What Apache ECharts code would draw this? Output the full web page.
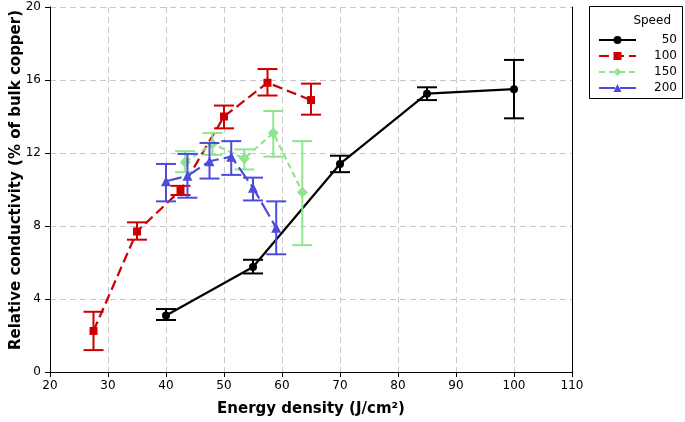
<!DOCTYPE html>
<html>
<head>
<meta charset="utf-8">
<script src="https://cdn.jsdelivr.net/npm/echarts@6/dist/echarts.min.js"></script>
<style>
html,body{margin:0;padding:0;background:#fff;}
#chart{width:685px;height:422px;}
</style>
</head>
<body>
<div id="chart"></div>
<script>
// ---- data ----
var seriesNames = ['50', '100', '150', '200'];
var xTicks = [20, 30, 40, 50, 60, 70, 80, 90, 100, 110];
var yTicks = [0, 4, 8, 12, 16, 20];

var s50_x  = [40, 55, 70, 85, 100];
var s50_y  = [3.1, 5.75, 11.4, 15.25, 15.5];
var s50_lo = [2.85, 5.4, 10.95, 14.9, 13.9];
var s50_hi = [3.45, 6.15, 11.85, 15.6, 17.1];

var s100_x  = [27.5, 35, 42.5, 50, 57.5, 65];
var s100_y  = [2.25, 7.7, 9.95, 14.0, 15.85, 14.9];
var s100_lo = [1.2, 7.25, 9.7, 13.35, 15.15, 14.1];
var s100_hi = [3.3, 8.2, 10.2, 14.6, 16.6, 15.8];

var s150_x  = [43.3, 48, 53.5, 58.5, 63.5];
var s150_y  = [11.5, 12.5, 11.7, 13.1, 9.85];
var s150_lo = [10.95, 11.9, 11.1, 11.8, 6.95];
var s150_hi = [12.1, 13.1, 12.2, 14.3, 12.65];

var s200_x  = [40, 43.7, 47.5, 51.25, 55, 59];
var s200_y  = [10.45, 10.75, 11.55, 11.8, 10.1, 7.9];
var s200_lo = [9.35, 9.55, 10.6, 10.8, 9.4, 6.45];
var s200_hi = [11.4, 11.95, 12.55, 12.65, 10.65, 9.35];

var xTitle = 'Energy density (J/cm²)';
var yTitle = 'Relative conductivity (% of bulk copper)';
var legendTitle = 'Speed';

// ---- styles ----
var FONT = 'DejaVu Sans';
var styles = [
  {color: '#000000', symbol: 'circle', size: 8, dash: 'solid'},
  {color: '#CC0000', symbol: 'rect', size: 8, dash: [10, 5]},
  {color: '#90E490', symbol: 'diamond', size: 11, dash: [6, 4]},
  {color: '#4B4BDC', symbol: 'triangle', size: 10, dash: [16, 5]}
];
var allData = [
  [s50_x, s50_y, s50_lo, s50_hi],
  [s100_x, s100_y, s100_lo, s100_hi],
  [s150_x, s150_y, s150_lo, s150_hi],
  [s200_x, s200_y, s200_lo, s200_hi]
];

function zip2(a, b) { return a.map(function (v, i) { return [v, b[i]]; }); }
function zip3(a, b, c) { return a.map(function (v, i) { return [v, b[i], c[i]]; }); }

function errRender(color) {
  return function (params, api) {
    var x = api.value(0), lo = api.value(1), hi = api.value(2);
    var pHi = api.coord([x, hi]);
    var pLo = api.coord([x, lo]);
    var hw = 10;
    var st = {stroke: color, lineWidth: 2};
    return {
      type: 'group',
      children: [
        {type: 'line', shape: {x1: pHi[0], y1: pHi[1], x2: pLo[0], y2: pLo[1]}, style: st},
        {type: 'line', shape: {x1: pHi[0] - hw, y1: pHi[1], x2: pHi[0] + hw, y2: pHi[1]}, style: st},
        {type: 'line', shape: {x1: pLo[0] - hw, y1: pLo[1], x2: pLo[0] + hw, y2: pLo[1]}, style: st}
      ]
    };
  };
}

var series = [];
allData.forEach(function (d, i) {
  var s = styles[i];
  series.push({
    name: seriesNames[i] + '_err',
    type: 'custom',
    renderItem: errRender(s.color),
    data: zip3(d[0], d[2], d[3]),
    encode: {x: 0, y: [1, 2]},
    silent: true,
    z: 2 + i * 2
  });
  series.push({
    name: seriesNames[i],
    type: 'line',
    data: zip2(d[0], d[1]),
    symbol: s.symbol,
    symbolSize: s.size,
    color: s.color,
    lineStyle: {color: s.color, width: 2.2, type: s.dash},
    itemStyle: {color: s.color},
    z: 3 + i * 2,
    animation: false
  });
});

var gridLine = {show: true, lineStyle: {color: '#c8c8c8', type: [6, 4], width: 1}};
var blackLine = {show: true, lineStyle: {color: '#000', width: 1}};

var chart = echarts.init(document.getElementById('chart'), null, {renderer: 'canvas'});
chart.setOption({
  animation: false,
  backgroundColor: '#fff',
  grid: {left: 50, right: 113, top: 7, bottom: 50, containLabel: false, outerBoundsMode: 'none'},
  xAxis: [{
    type: 'value', min: xTicks[0], max: xTicks[xTicks.length - 1], interval: 10,
    name: xTitle, nameLocation: 'middle', nameGap: 30,
    nameTextStyle: {fontFamily: FONT, fontWeight: 'bold', fontSize: 15, color: '#000'},
    axisLine: blackLine,
    axisTick: {show: true, length: 5, lineStyle: {color: '#000'}},
    axisLabel: {fontFamily: FONT, fontSize: 12, color: '#000', margin: 8},
    splitLine: gridLine
  }, {
    type: 'value', position: 'top', min: xTicks[0], max: xTicks[xTicks.length - 1], interval: 10,
    axisLine: blackLine, axisTick: {show: false}, axisLabel: {show: false}, splitLine: {show: false}
  }],
  yAxis: [{
    type: 'value', min: yTicks[0], max: yTicks[yTicks.length - 1], interval: 4,
    axisLine: blackLine,
    axisTick: {show: true, length: 5, lineStyle: {color: '#000'}},
    axisLabel: {fontFamily: FONT, fontSize: 12, color: '#000', margin: 9},
    splitLine: gridLine
  }, {
    type: 'value', position: 'right', min: yTicks[0], max: yTicks[yTicks.length - 1], interval: 4,
    axisLine: blackLine, axisTick: {show: false}, axisLabel: {show: false}, splitLine: {show: false}
  }],
  legend: {
    data: seriesNames,
    orient: 'vertical',
    left: 593, top: 29,
    itemWidth: 37, itemHeight: 10, itemGap: 4,
    selectedMode: false,
    formatter: function (name) { return '{a|' + name + '}'; },
    textStyle: {fontFamily: FONT, fontSize: 12, color: '#000',
      rich: {a: {fontFamily: FONT, fontSize: 12, color: '#000', width: 36, align: 'right'}}},
    z: 10
  },
  graphic: {
    elements: [
      {type: 'rect', left: 589, top: 6, z: 1, shape: {width: 93, height: 92}, style: {fill: '#fff', stroke: '#000', lineWidth: 1}},
      {type: 'text', right: 685 - 671, top: 15, z: 5, style: {text: legendTitle, font: '12px "DejaVu Sans"', fill: '#000'}},
      {type: 'text', x: 16, y: 180, rotation: Math.PI / 2, z: 5,
       style: {text: yTitle, font: 'bold 15px "DejaVu Sans"', fill: '#000', align: 'center', verticalAlign: 'middle'}}
    ]
  },
  series: series
});
</script>
</body>
</html>
